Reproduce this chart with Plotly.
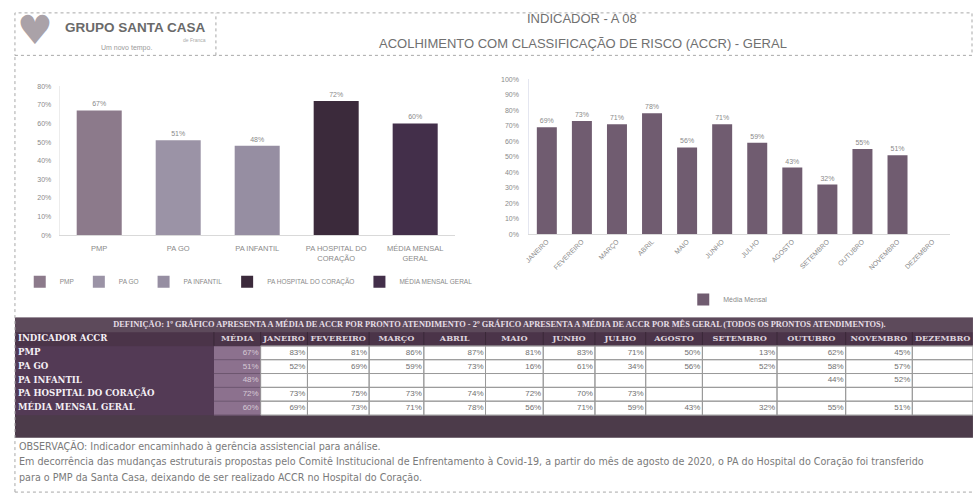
import plotly.graph_objects as go

W, H = 973, 502


def px(x):
    return x / W


def py(y):
    return 1 - y / H


# ---------------- data ----------------
units = ["PMP", "PA GO", "PA INFANTIL", "PA HOSPITAL DO CORAÇÃO", "MÉDIA MENSAL GERAL"]
unit_ticks = ["PMP", "PA GO", "PA INFANTIL", "PA HOSPITAL DO<br>CORAÇÃO", "MÉDIA MENSAL<br>GERAL"]
unit_avg = [0.67, 0.51, 0.48, 0.72, 0.60]

months = ["JANEIRO", "FEVEREIRO", "MARÇO", "ABRIL", "MAIO", "JUNHO", "JULHO",
          "AGOSTO", "SETEMBRO", "OUTUBRO", "NOVEMBRO", "DEZEMBRO"]
monthly_general = [0.69, 0.73, 0.71, 0.78, 0.56, 0.71, 0.59, 0.43, 0.32, 0.55, 0.51, None]

pmp_monthly = [0.83, 0.81, 0.86, 0.87, 0.81, 0.83, 0.71, 0.50, 0.13, 0.62, 0.45, None]
pago_monthly = [0.52, 0.69, 0.59, 0.73, 0.16, 0.61, 0.34, 0.56, 0.52, 0.58, 0.57, None]
painf_monthly = [None, None, None, None, None, None, None, None, None, 0.44, 0.52, None]
hosp_monthly = [0.73, 0.75, 0.73, 0.74, 0.72, 0.70, 0.73, None, None, None, None, None]
table_rows = [pmp_monthly, pago_monthly, painf_monthly, hosp_monthly, monthly_general]
table_header = ["INDICADOR ACCR", "MÉDIA"] + months

definition = ("DEFINIÇÃO: 1º GRÁFICO APRESENTA A MÉDIA DE ACCR POR PRONTO ATENDIMENTO - "
              "2º GRÁFICO APRESENTA A MÉDIA DE ACCR POR MÊS GERAL (TODOS OS PRONTOS ATENDIMENTOS).")
obs_lines = [
    "OBSERVAÇÃO: Indicador encaminhado à gerência assistencial para análise.",
    "Em decorrência das mudanças estruturais propostas pelo Comitê Institucional de Enfrentamento à Covid-19, "
    "a partir do mês de agosto de 2020, o PA do Hospital do Coração foi transferido",
    "para o PMP da Santa Casa, deixando de ser realizado ACCR no Hospital do Coração.",
]

# ---------------- styles / layout positions ----------------
unit_colors = ["#8c7a8b", "#9b93a6", "#968ea2", "#3b2a3b", "#432f4a"]
month_color = "#705c70"
FONT = "Liberation Sans"
GRAY = "#8a8a8a"

col_bounds = [10, 210, 257, 304, 366, 421, 483, 541, 593, 644, 701, 776, 845, 912, 973]
row_bounds = [318, 333, 347, 361, 375, 389, 403, 417, 440]
fill_palette = ["#5d4a5b", "#4b3449", "#533a55", "#8c718e", "#ffffff", "#4c3b4a"]


def fmt(v):
    return "" if v is None else f"{v:.0%}"


fig = go.Figure()

# ---------------- left chart ----------------
for name, tick, val, col in zip(units, unit_ticks, unit_avg, unit_colors):
    fig.add_trace(go.Bar(
        x=[tick], y=[val], name=name, marker=dict(color=col, line=dict(width=0)),
        text=[fmt(val)], textposition="outside", cliponaxis=False,
        textfont=dict(size=7, color=GRAY, family=FONT),
        xaxis="x", yaxis="y", legend="legend", hoverinfo="skip",
    ))

# ---------------- right chart ----------------
fig.add_trace(go.Bar(
    x=months, y=monthly_general, name="Média Mensal",
    marker=dict(color=month_color, line=dict(width=0)),
    text=[fmt(v) for v in monthly_general], textposition="outside", cliponaxis=False,
    textfont=dict(size=7, color=GRAY, family=FONT),
    xaxis="x2", yaxis="y2", legend="legend2", hoverinfo="skip",
))

# ---------------- table (heatmap of cell fills + text) ----------------
ncol = len(table_header)
nrows_data = len(units)
z = [[0] * ncol, [1] * ncol]
for r in range(nrows_data):
    z.append([2, 3] + [4] * (ncol - 2))
z.append([5] * ncol)
nfill = len(fill_palette) - 1
fig.add_trace(go.Heatmap(
    x=col_bounds, y=row_bounds, z=z, zmin=0, zmax=nfill,
    colorscale=[[k / nfill, c] for k, c in enumerate(fill_palette)],
    showscale=False, hoverinfo="skip", xaxis="x3", yaxis="y3",
))

centers_x = [(a + b) / 2 for a, b in zip(col_bounds[:-1], col_bounds[1:])]
centers_y = [(a + b) / 2 for a, b in zip(row_bounds[:-1], row_bounds[1:])]

# header texts
fig.add_trace(go.Scatter(
    x=[col_bounds[0] + 3], y=[centers_y[1]], text=[f"<b>{table_header[0]}</b>"],
    mode="text", textposition="middle right", cliponaxis=False, showlegend=False, hoverinfo="skip",
    textfont=dict(family="DejaVu Serif", size=8.6, color="#f4eff4"), xaxis="x3", yaxis="y3",
))
fig.add_trace(go.Scatter(
    x=centers_x[1:], y=[centers_y[1]] * (ncol - 1), text=[f"<b>{h}</b>" for h in table_header[1:]],
    mode="text", textposition="middle center", cliponaxis=False, showlegend=False, hoverinfo="skip",
    textfont=dict(family="DejaVu Serif", size=8.2, color="#ddd3dd"), xaxis="x3", yaxis="y3",
))
# row labels
fig.add_trace(go.Scatter(
    x=[col_bounds[0] + 3] * nrows_data, y=centers_y[2:2 + nrows_data], text=[f"<b>{u}</b>" for u in units],
    mode="text", textposition="middle right", cliponaxis=False, showlegend=False, hoverinfo="skip",
    textfont=dict(family="DejaVu Serif", size=8.6, color="#f4eff4"), xaxis="x3", yaxis="y3",
))
# average column
fig.add_trace(go.Scatter(
    x=[col_bounds[2] - 2] * nrows_data, y=centers_y[2:2 + nrows_data], text=[fmt(v) for v in unit_avg],
    mode="text", textposition="middle left", cliponaxis=False, showlegend=False, hoverinfo="skip",
    textfont=dict(family=FONT, size=8, color="#d6cad6"), xaxis="x3", yaxis="y3",
))
# monthly cells
mx, my, mt = [], [], []
for r, row in enumerate(table_rows):
    for c, v in enumerate(row):
        mx.append(col_bounds[c + 3] - 2)
        my.append(centers_y[2 + r])
        mt.append(fmt(v))
fig.add_trace(go.Scatter(
    x=mx, y=my, text=mt, mode="text", textposition="middle left", cliponaxis=False,
    showlegend=False, hoverinfo="skip",
    textfont=dict(family=FONT, size=8, color="#707070"), xaxis="x3", yaxis="y3",
))
# definition text
fig.add_trace(go.Scatter(
    x=[497], y=[centers_y[0]], text=[f"<b>{definition}</b>"], mode="text", textposition="middle center",
    cliponaxis=False, showlegend=False, hoverinfo="skip",
    textfont=dict(family="Liberation Serif", size=8.4, color="#e6dee6"), xaxis="x3", yaxis="y3",
))

# ---------------- shapes ----------------
dot = dict(color="#a8a8a8", width=1, dash="dot")
shapes = [
    dict(type="rect", xref="paper", yref="paper", x0=px(10), x1=px(972), y0=py(53), y1=py(10), line=dot),
    dict(type="line", xref="paper", yref="paper", x0=px(212), x1=px(212), y0=py(53), y1=py(10), line=dot),
    dict(type="line", xref="paper", yref="paper", x0=px(10), x1=px(10), y0=py(495), y1=py(53), line=dot),
    dict(type="line", xref="paper", yref="paper", x0=px(10), x1=px(973), y0=py(495), y1=py(495), line=dot),
]
# table grid lines
for c in range(1, ncol):
    shapes.append(dict(type="line", xref="x3", yref="y3", x0=col_bounds[c], x1=col_bounds[c],
                       y0=row_bounds[1], y1=row_bounds[2], line=dict(color="#3a2838", width=1)))
for r in range(2, 2 + nrows_data):
    shapes.append(dict(type="line", xref="x3", yref="y3", x0=col_bounds[1], x1=col_bounds[2],
                       y0=row_bounds[r + 1], y1=row_bounds[r + 1], line=dict(color="#6d566f", width=1)))
    for c in range(2, ncol):
        shapes.append(dict(type="rect", xref="x3", yref="y3", x0=col_bounds[c], x1=col_bounds[c + 1],
                           y0=row_bounds[r], y1=row_bounds[r + 1], line=dict(color="#9a9a9a", width=1)))

# ---------------- annotations ----------------
ann = [
    dict(text="INDICADOR - A 08", x=px(580), y=py(16), size=13, color="#707070"),
    dict(text="ACOLHIMENTO COM CLASSIFICAÇÃO DE RISCO (ACCR) - GERAL", x=px(581), y=py(41), size=13, color="#707070"),
    dict(text="♥", x=px(30), y=py(27), size=40, color="#aaa2a8", family="DejaVu Sans"),
    dict(text="<b>GRUPO SANTA CASA</b>", x=px(131), y=py(25), size=13.5, color="#6a6a6a"),
    dict(text="de Franca", x=px(190), y=py(37), size=5, color="#aaaaaa"),
    dict(text="Um novo tempo.", x=px(122), y=py(46), size=7, color="#9a9a9a"),
]
annotations = []
for a in ann:
    annotations.append(dict(
        text=a["text"], x=a["x"], y=a["y"], xref="paper", yref="paper",
        xanchor="center", yanchor="middle", showarrow=False,
        font=dict(size=a["size"], color=a["color"], family=a.get("family", FONT)),
    ))
for i, line in enumerate(obs_lines):
    annotations.append(dict(
        text=line, x=px(12), y=py(448 + i * 16), xref="paper", yref="paper",
        xanchor="left", yanchor="middle", showarrow=False,
        font=dict(size=9.6, color="#7a7a7a", family="DejaVu Sans"),
    ))

axis_font = dict(size=7, color=GRAY, family=FONT)

fig.update_layout(
    width=W, height=H, margin=dict(l=0, r=0, t=0, b=0),
    paper_bgcolor="white", plot_bgcolor="white",
    barmode="overlay", bargap=0.43,
    font=dict(family=FONT),
    xaxis=dict(domain=[px(55), px(452)], categoryorder="array", categoryarray=unit_ticks,
               showline=True, linecolor="#d9d9d9", showgrid=False, ticks="",
               tickfont=dict(size=7.5, color=GRAY, family=FONT), ticklabelstandoff=6, anchor="y"),
    yaxis=dict(domain=[py(235), py(84)], range=[0, 0.801], dtick=0.1, tickformat=".0%",
               showgrid=False, zeroline=False, showline=True, linecolor="#ececec",
               ticks="", tickfont=axis_font, ticklabelstandoff=6, anchor="x"),
    xaxis2=dict(domain=[px(527), px(950)], categoryorder="array", categoryarray=months,
                showline=True, linecolor="#d9d9d9", showgrid=False, ticks="",
                tickangle=-45, tickfont=dict(size=6.8, color=GRAY, family=FONT), anchor="y2"),
    yaxis2=dict(domain=[py(234), py(77)], range=[0, 1.001], dtick=0.1, tickformat=".0%",
                showgrid=False, zeroline=False, showline=True, linecolor="#e4e6f0",
                ticks="", tickfont=axis_font, ticklabelstandoff=8, anchor="x2"),
    xaxis3=dict(domain=[0, 1], range=[0, W], visible=False, fixedrange=True, anchor="y3"),
    yaxis3=dict(domain=[py(row_bounds[-1]), py(row_bounds[0])], range=[row_bounds[-1], row_bounds[0]],
                visible=False, fixedrange=True, anchor="x3"),
    legend=dict(x=px(245), y=py(282), xanchor="center", yanchor="middle", orientation="h",
                font=dict(size=6.5, color=GRAY, family=FONT), itemwidth=30,
                bgcolor="rgba(0,0,0,0)"),
    legend2=dict(x=px(727), y=py(300), xanchor="center", yanchor="middle", orientation="h",
                 font=dict(size=7, color=GRAY, family=FONT), itemwidth=30,
                 bgcolor="rgba(0,0,0,0)"),
    shapes=shapes,
    annotations=annotations,
)

fig.write_html("out.html")
